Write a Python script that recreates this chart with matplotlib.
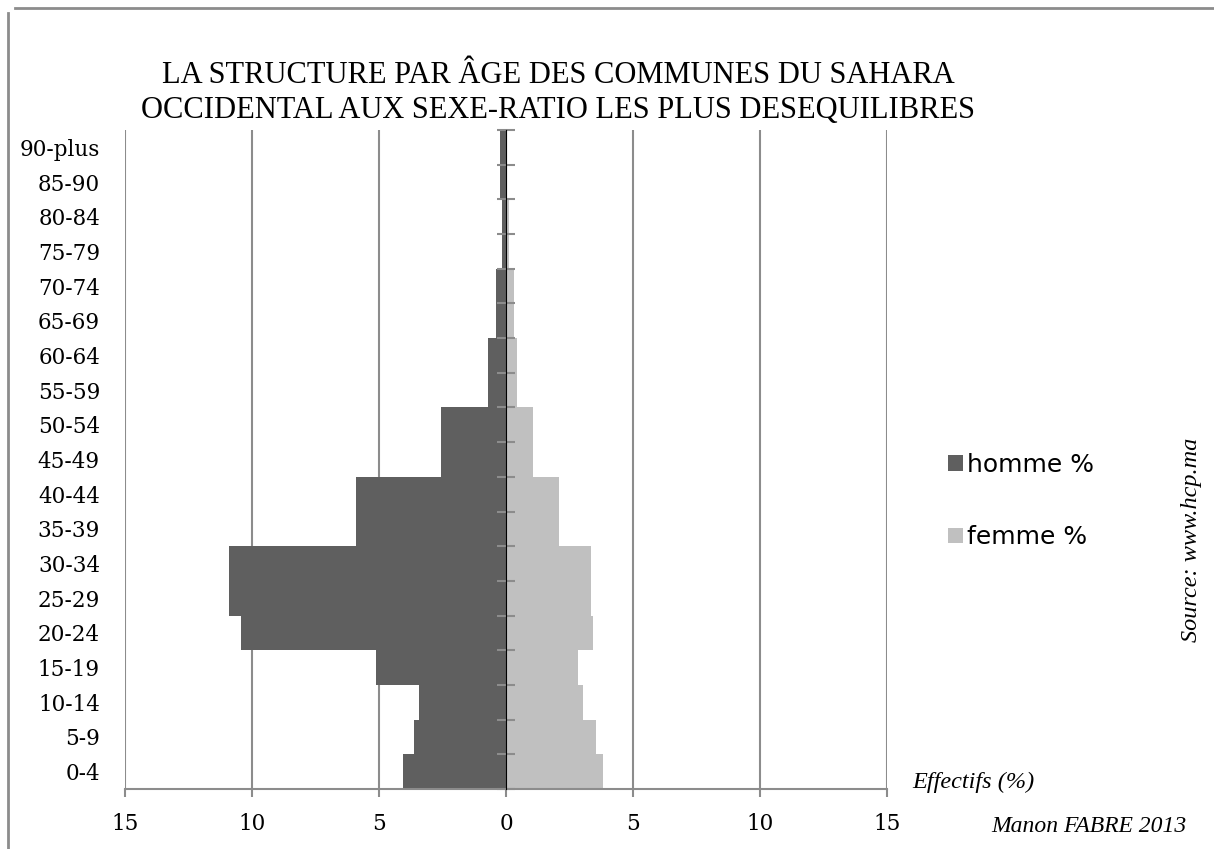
import matplotlib
matplotlib.use("Agg")
import matplotlib.pyplot as plt
import numpy as np
from matplotlib.patches import Patch
from matplotlib.lines import Line2D

# ---- data (bottom to top) ----
age_groups = ["0-4", "5-9", "10-14", "15-19", "20-24", "25-29", "30-34", "35-39",
              "40-44", "45-49", "50-54", "55-59", "60-64", "65-69", "70-74",
              "75-79", "80-84", "85-90", "90-plus"]
homme = [4.05, 3.62, 3.43, 5.13, 10.43, 10.9, 10.9, 5.92, 5.92, 2.55, 2.55,
         0.71, 0.71, 0.39, 0.39, 0.15, 0.15, 0.22, 0.22]
femme = [3.82, 3.55, 3.03, 2.84, 3.41, 3.33, 3.33, 2.07, 2.07, 1.05, 1.05,
         0.45, 0.45, 0.32, 0.32, 0.10, 0.10, 0.05, 0.05]
x_ticks = [-15, -10, -5, 0, 5, 10, 15]
x_tick_labels = ["15", "10", "5", "0", "5", "10", "15"]

title = "LA STRUCTURE PAR ÂGE DES COMMUNES DU SAHARA\nOCCIDENTAL AUX SEXE-RATIO LES PLUS DESEQUILIBRES"

DARK = "#5f5f5f"
LIGHT = "#c0c0c0"
GRID = "#8c8c8c"
SERIF = "Liberation Serif"
TICKFONT = "DejaVu Serif"

W, H = 1214, 849
fig = plt.figure(figsize=(W / 100, H / 100), dpi=100)
ax = fig.add_axes([125 / W, 1 - 789 / H, (887 - 125) / W, (789 - 130) / H])

y = np.arange(len(age_groups))
ax.barh(y, [-v for v in homme], height=1.0, color=DARK, linewidth=0, zorder=2)
ax.barh(y, femme, height=1.0, color=LIGHT, linewidth=0, zorder=2)

ax.set_xlim(-15, 15)
ax.set_ylim(-0.5, len(age_groups) - 0.5)

ax.set_xticks(x_ticks)
ax.set_xticklabels(x_tick_labels, fontfamily=TICKFONT, fontsize=15.5)
ax.tick_params(axis="x", direction="out", length=6, width=1.5, color=GRID, pad=11)
ax.grid(axis="x", color=GRID, linewidth=1.5, zorder=1)
ax.set_axisbelow(True)

ax.set_yticks(y)
ax.set_yticklabels(age_groups, fontfamily=TICKFONT, fontsize=15.5)
ax.tick_params(axis="y", length=0, pad=18)

for s in ["top", "right", "left"]:
    ax.spines[s].set_visible(False)
ax.spines["bottom"].set_color(GRID)
ax.spines["bottom"].set_linewidth(1.5)

# central category axis at 0
sec = ax.secondary_yaxis(0.5)
sec.set_zorder(5)
sec.spines["left"].set_color(GRID)
sec.spines["left"].set_linewidth(2)
sec.set_yticks(np.arange(len(age_groups) + 1) - 0.5)
sec.set_yticklabels([])
sec.tick_params(axis="y", direction="inout", length=13, width=1.5, color=GRID)

# title
fig.text(558 / W, 1 - 93 / H, title, ha="center", va="center", fontfamily=SERIF,
         fontsize=22, linespacing=1.3, color="black")

# legend
handles = [Patch(facecolor=DARK, edgecolor="none", label="homme %"),
           Patch(facecolor=LIGHT, edgecolor="none", label="femme %")]
fig.legend(handles=handles, loc="upper left", bbox_to_anchor=(926 / W, 1 - 430 / H),
           frameon=False, prop={"family": "DejaVu Sans", "size": 18},
           handlelength=0.6, handleheight=0.6, handletextpad=0.15, labelspacing=1.95)

# annotations
fig.text(912 / W, 1 - 782 / H, "Effectifs (%)", ha="left", va="center",
         fontfamily=SERIF, fontstyle="italic", fontsize=17.5)
fig.text(1187 / W, 1 - 826 / H, "Manon FABRE 2013", ha="right", va="center",
         fontfamily=SERIF, fontstyle="italic", fontsize=17)
fig.text(1192 / W, 1 - 540 / H, "Source: www.hcp.ma", ha="center", va="center",
         rotation=90, fontfamily=SERIF, fontstyle="italic", fontsize=17.5)

# frame lines
fig.add_artist(Line2D([15 / W, 1], [1 - 8 / H, 1 - 8 / H], color=GRID, linewidth=2,
                      transform=fig.transFigure))
fig.add_artist(Line2D([8 / W, 8 / W], [0, 1 - 13 / H], color=GRID, linewidth=2,
                      transform=fig.transFigure))

fig.savefig("out.png", dpi=100)
